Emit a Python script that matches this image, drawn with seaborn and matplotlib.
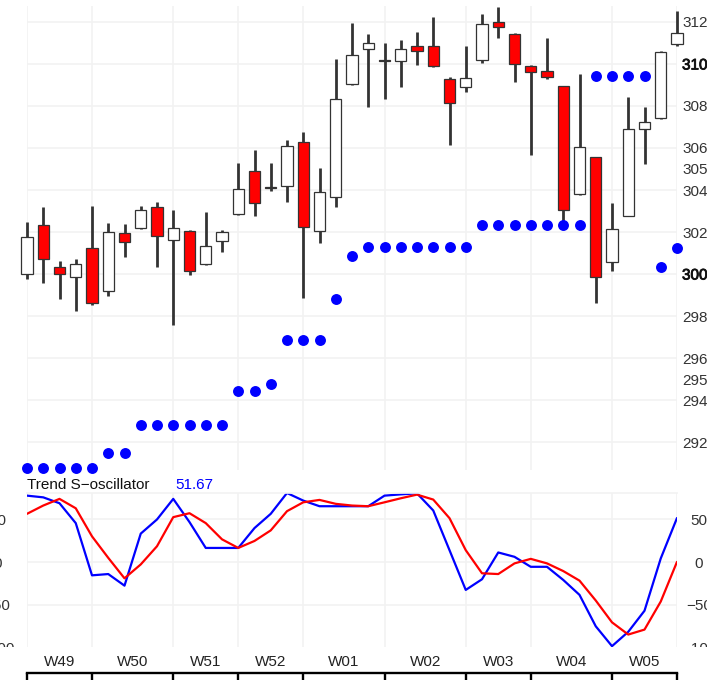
import numpy as np
import pandas as pd
import matplotlib
matplotlib.use("Agg")
import matplotlib.pyplot as plt
import matplotlib.patheffects as pe
from matplotlib.transforms import Bbox, TransformedBbox, blended_transform_factory
import seaborn as sns

sns.set_theme(style="white")
plt.rcParams["font.family"] = ["Liberation Sans", "DejaVu Sans"]

# ---------------- data ----------------
opens = [300.00, 302.33, 300.35, 299.87, 301.25, 299.20, 301.94, 302.18, 303.18, 301.62,
         302.06, 300.48, 301.59, 302.84, 304.92, 304.16, 304.19, 306.27, 302.06, 303.65,
         309.03, 310.70, 310.17, 310.16, 310.87, 310.87, 309.29, 308.89, 310.19, 312.01,
         311.43, 309.90, 309.68, 308.95, 303.80, 305.56, 300.56, 302.76, 306.90, 307.41,
         310.95]
highs = [302.48, 303.20, 300.63, 300.70, 303.25, 302.44, 302.37, 303.24, 303.44, 303.05,
         302.08, 302.94, 302.10, 305.27, 305.90, 305.27, 306.38, 306.75, 305.03, 310.22,
         311.94, 311.41, 310.99, 311.14, 311.54, 312.25, 309.40, 310.87, 312.37, 312.73,
         311.46, 309.95, 311.22, 308.96, 309.52, 305.57, 303.37, 308.41, 307.94, 310.63,
         312.52]
lows = [299.75, 299.56, 298.80, 298.24, 298.52, 298.95, 300.82, 302.14, 300.32, 297.57,
        299.95, 300.45, 301.03, 302.80, 302.76, 303.95, 303.44, 298.84, 301.46, 303.17,
        309.00, 307.97, 308.33, 308.92, 309.95, 309.87, 306.14, 308.68, 310.03, 311.25,
        309.13, 305.67, 309.27, 302.49, 303.77, 298.60, 300.16, 302.74, 305.24, 307.40,
        310.87]
closes = [301.75, 300.70, 300.00, 300.48, 298.63, 302.02, 301.54, 303.05, 301.81, 302.18,
          300.16, 301.33, 302.02, 304.05, 303.37, 304.11, 306.10, 302.25, 303.92, 308.32,
          310.43, 311.01, 310.12, 310.70, 310.62, 309.92, 308.16, 309.32, 311.90, 311.78,
          310.00, 309.63, 309.40, 303.05, 306.06, 299.84, 302.13, 306.89, 307.25, 310.56,
          311.49]
sar = [290.75, 290.75, 290.75, 290.75, 290.75, 291.49, 291.49, 292.81, 292.81, 292.81,
       292.81, 292.81, 292.81, 294.44, 294.44, 294.75, 296.84, 296.84, 296.84, 298.81,
       300.86, 301.27, 301.27, 301.27, 301.27, 301.27, 301.27, 301.27, 302.33, 302.33,
       302.33, 302.33, 302.33, 302.33, 302.33, 309.43, 309.43, 309.43, 309.43, 300.35,
       301.22]
osc_main = [77.9, 75.9, 69.0, 45.7, -15.5, -14.0, -27.6, 33.4, 50.0, 74.1,
            46.9, 16.6, 16.6, 16.6, 39.9, 56.6, 81.0, 72.1, 65.5, 65.5,
            65.5, 65.5, 77.9, 79.4, 80.6, 60.5, 14.0, -32.6, -20.1, 11.3,
            6.2, -5.5, -5.5, -20.9, -38.4, -75.2, -98.5, -81.7, -57.0, 4.3,
            51.67]
osc_signal = [56.6, 66.3, 74.1, 63.1, 30.2, 5.0, -19.0, -2.7, 18.6, 52.7,
              57.3, 45.7, 26.7, 16.6, 24.8, 37.2, 59.7, 70.1, 72.9, 68.3,
              66.3, 65.5, 70.1, 74.8, 79.1, 73.3, 51.5, 14.0, -13.1, -14.0,
              -1.5, 3.8, -1.5, -10.5, -21.7, -45.0, -70.6, -84.9, -79.1, -46.2,
              0.3]
week_starts = [0, 4, 9, 13, 17, 22, 27, 31, 36, 40]
week_labels = ["W49", "W50", "W51", "W52", "W01", "W02", "W03", "W04", "W05"]
price_ticks = [292, 294, 296, 298, 300, 302, 304, 306, 308, 310, 312]
price_extra_ticks = [295, 305]
osc_ticks = [-50, 0, 50]

# ---------------- figure ----------------
W, H = 707, 680
fig = plt.figure(figsize=(W / 100, H / 100), dpi=100)
ax = fig.add_axes([27 / W, (H - 470) / H, 650 / W, 464 / H])
axo = fig.add_axes([27 / W, (H - 647) / H, 650 / W, 154 / H])
axb = fig.add_axes([27 / W, 0, 650 / W, 7 / H])

GRID = "#f2f2f2"
TXT = "#333333"
FS = 11

x = np.arange(len(opens))
o = np.array(opens)
c = np.array(closes)
up = c >= o

# candles
ax.vlines(x, lows, highs, color="#333333", lw=2.0, zorder=2, clip_on=False)
ax.bar(x, np.abs(c - o), bottom=np.minimum(o, c), width=0.68,
       color=np.where(up, "white", "#ff0000"), edgecolor="#333333",
       linewidth=0.9, zorder=3, clip_on=False)

# SAR dots
sar_df = pd.DataFrame({"idx": x, "sar": sar})
sns.scatterplot(data=sar_df, x="idx", y="sar", ax=ax, color="#0000ff", s=62,
                linewidth=0, zorder=4, clip_on=False)

ax.set_xlim(0, 40)
ax.set_ylim(290.67, 312.76)
ax.set_xticks(week_starts)
ax.set_xticklabels([])
ax.set_yticks(price_ticks)
ax.set_yticks(price_extra_ticks, minor=True)
ax.set_yticklabels([str(v) for v in price_extra_ticks], minor=True)
ax.yaxis.tick_right()
ax.tick_params(axis="y", which="both", length=0, pad=3.6, labelsize=FS,
               labelcolor=TXT, right=True, left=False, labelright=True, labelleft=False)
ax.tick_params(axis="x", length=0)
ax.grid(True, which="major", color=GRID, lw=1.2)
ax.set_xlabel("")
ax.set_ylabel("")
for s in ax.spines.values():
    s.set_visible(False)
for t, v in zip(ax.yaxis.get_major_ticks(), price_ticks):
    if v in (300, 310):
        t.label2.set_color("#111111")
        t.label2.set_path_effects([pe.withStroke(linewidth=0.6, foreground="#111111")])

# oscillator
osc_df = pd.DataFrame({
    "idx": np.concatenate([x, x]),
    "value": osc_main + osc_signal,
    "series": ["main"] * len(x) + ["signal"] * len(x),
})
sns.lineplot(data=osc_df, x="idx", y="value", hue="series",
             palette={"main": "#0000ff", "signal": "#ff0000"},
             ax=axo, lw=1.6, legend=False)
axo.set_xlim(0, 40)
axo.set_ylim(-99.5, 81)
axo.set_xticks(week_starts)
axo.set_xticklabels([])
mids = [(a + b) / 2 for a, b in zip(week_starts[:-1], week_starts[1:])]
axo.set_xticks(mids, minor=True)
axo.set_xticklabels(week_labels, minor=True)
axo.tick_params(axis="x", which="both", length=0)
axo.tick_params(axis="x", which="minor", pad=5.5, labelsize=FS, labelcolor="#222222")
axo.set_yticks(osc_ticks)
axo.tick_params(axis="y", length=0, pad=15.8, labelsize=FS, labelcolor=TXT,
                left=False, right=False, labelleft=False, labelright=True)
for t in axo.yaxis.get_major_ticks():
    t.label2.set_horizontalalignment("center")
axo.grid(True, which="major", color=GRID, lw=1.2)
axo.set_xlabel("")
axo.set_ylabel("")
for k, s in axo.spines.items():
    s.set_visible(k == "top")
axo.spines["top"].set_color(GRID)
axo.spines["top"].set_linewidth(1.2)

sec = axo.secondary_yaxis("left")
sec.set_yticks(osc_ticks)
sec.tick_params(axis="y", length=0, pad=21.2, labelsize=FS, labelcolor=TXT)
for t in sec.yaxis.get_major_ticks():
    t.label1.set_horizontalalignment("center")
sec.spines["left"].set_visible(False)

# clipped -100 labels at the bottom edge
clip = TransformedBbox(Bbox([[0, (H - 647) / H], [1, 1]]), fig.transFigure)
tr_r = blended_transform_factory(axo.transAxes, axo.transData)
for xa in (1 + 22 / 650, -29.5 / 650):
    t = axo.text(xa, -100, "\u2212100", transform=tr_r, ha="center", va="center_baseline",
                 fontsize=FS, color=TXT, clip_on=True)
    t.set_clip_box(clip)

axo.text(0, 1 + 8 / 154, "Trend S\u2212oscillator", transform=axo.transAxes,
         ha="left", va="center", fontsize=FS, color="#111111")
axo.text((175.7 - 27) / 650, 1 + 8 / 154, f"{osc_main[-1]:.2f}", transform=axo.transAxes,
         ha="left", va="center", fontsize=FS, color="#0000ff")

# bottom period strip
axb.set_xlim(0, 40)
axb.set_ylim(0, 1)
axb.vlines(week_starts, 0, 1, color="black", lw=1.7, clip_on=False)
axb.set_xticks([])
axb.set_yticks([])
axb.set_facecolor("none")
for k, s in axb.spines.items():
    s.set_visible(k == "top")
axb.spines["top"].set_color("black")
axb.spines["top"].set_linewidth(1.7)

fig.savefig("out.png", dpi=100)
